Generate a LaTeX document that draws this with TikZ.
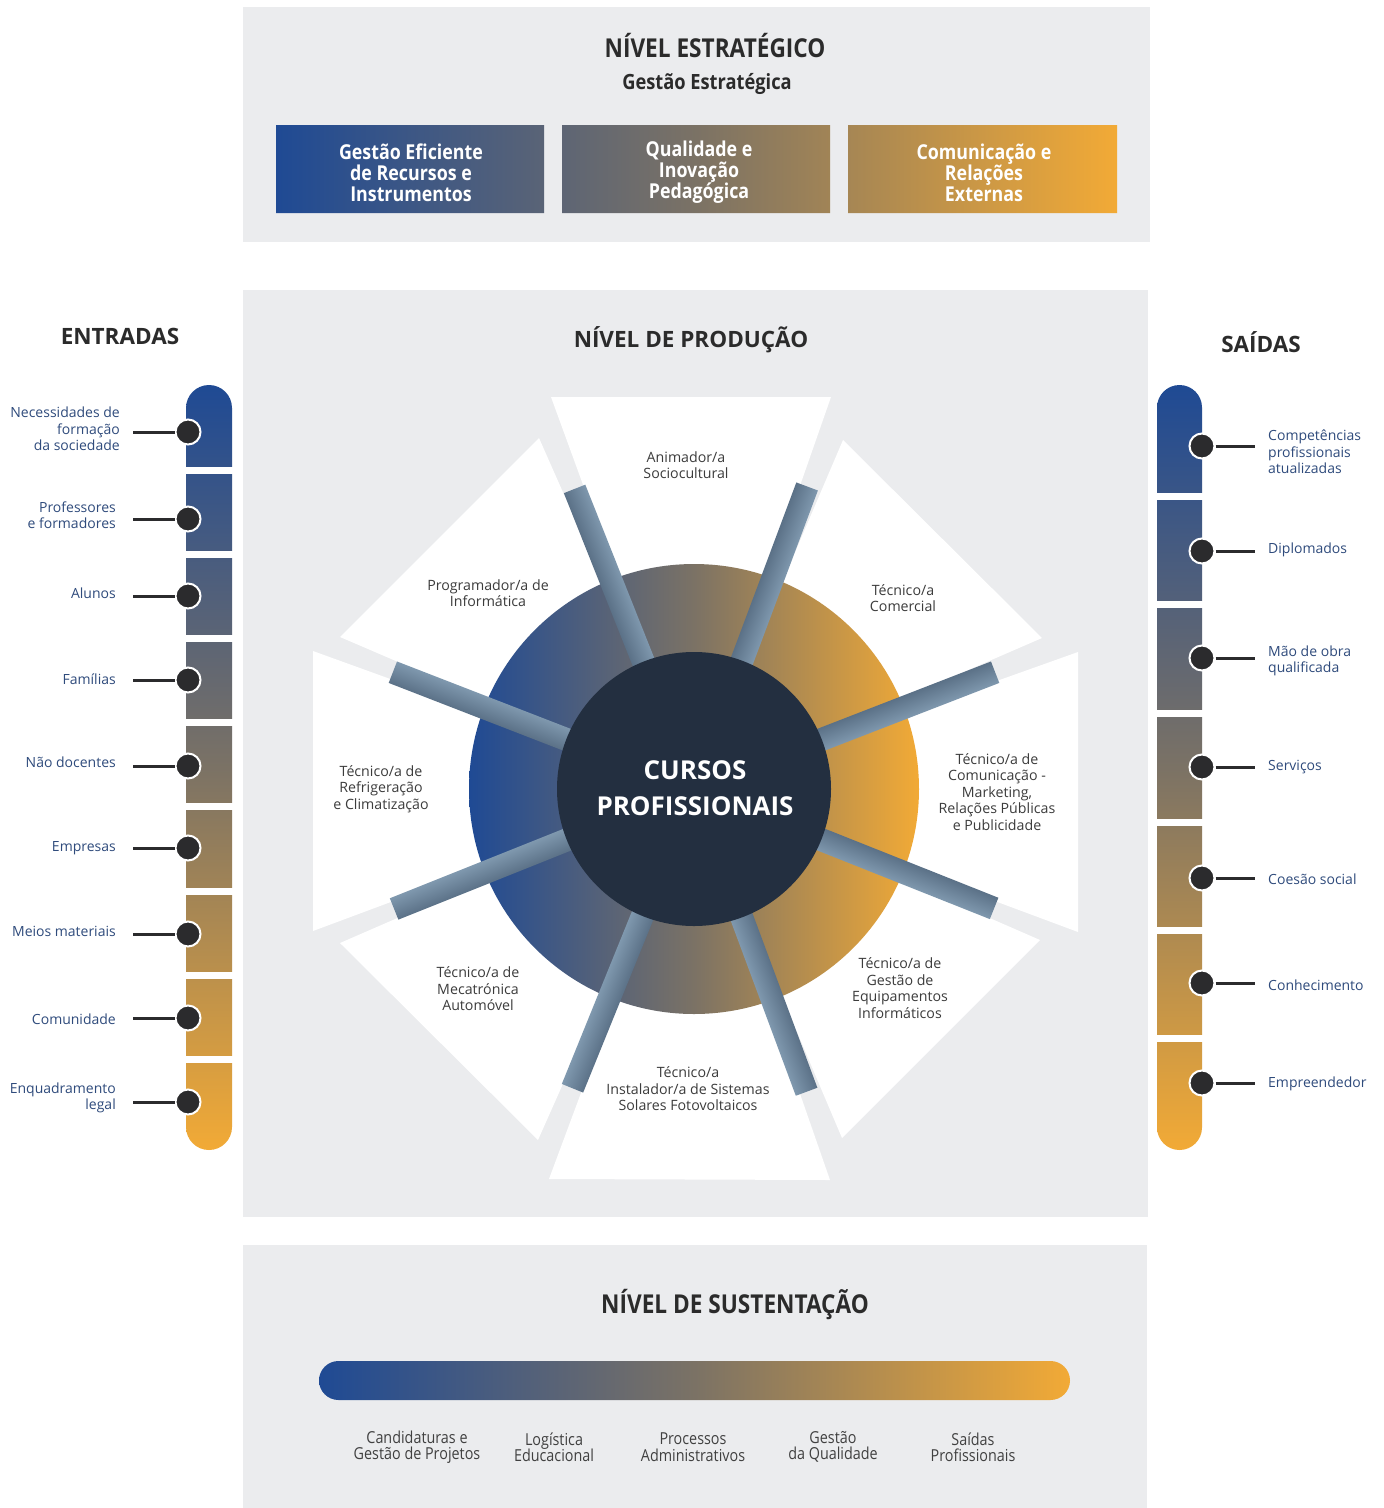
\documentclass[tikz,border=0pt]{standalone}
\usepackage{fontspec}
\setmainfont{Open Sans}
\newfontfamily\condfont[FakeStretch=0.87]{Open Sans}
\usetikzlibrary{calc}

\definecolor{panelgray}{HTML}{EBECEE}
\definecolor{cblue}{HTML}{1F4A94}
\definecolor{cmid}{HTML}{7B7265}
\definecolor{corange}{HTML}{F2AA36}
\definecolor{navy}{HTML}{232F40}
\definecolor{labelblue}{HTML}{2F4B7C}
\definecolor{wedgetext}{HTML}{3C3C3C}
\definecolor{dotdark}{HTML}{2B2B2D}
\definecolor{spokedark}{HTML}{5B7187}
\definecolor{spokelight}{HTML}{7F98AE}
\definecolor{headtext}{HTML}{2B2B2B}
\definecolor{basetext}{HTML}{404040}

\tikzset{
  panel/.style={fill=panelgray, draw=none},
  headcond/.style={font=\fontsize{26}{30}\condfont\bfseries, text=headtext, inner sep=0},
  subcond/.style={font=\fontsize{21}{24}\condfont\bfseries, text=headtext, inner sep=0},
  headbold/.style={font=\fontsize{22.5}{26}\selectfont\bfseries, text=headtext, inner sep=0},
  boxtext/.style={font=\fontsize{20.5}{21}\condfont\bfseries, text=white, align=center, inner sep=0},
  wedgelabel/.style={font=\fontsize{14.2}{16.5}\selectfont, text=wedgetext, align=center, inner sep=0},
  inlabel/.style={font=\fontsize{14}{16.5}\selectfont, text=labelblue, align=right, anchor=east, inner sep=0},
  outlabel/.style={font=\fontsize{14}{16.5}\selectfont, text=labelblue, align=left, anchor=west, inner sep=0},
  baselabel/.style={font=\fontsize{16.5}{16.5}\condfont, text=basetext, align=center, inner sep=0},
  hubdot/.style={circle, fill=dotdark, draw=white, line width=2pt, minimum size=25pt, inner sep=0},
  link/.style={draw=dotdark, line width=3pt},
  barshade/.style={top color=cblue, bottom color=corange, middle color=cmid},
}

\begin{document}
\begin{tikzpicture}[x=1pt,y=-1pt]
\useasboundingbox (0,0) rectangle (1384,1508);
\fill[white] (0,0) rectangle (1384,1508);

% ---------- panels ----------
\fill[panel] (243,7) rectangle (1150,242);
\fill[panel] (243,290) rectangle (1148,1217);
\fill[panel] (243,1245) rectangle (1147,1508);

% ---------- strategic level ----------
\node[headcond] (strat) at (715,46) {NÍVEL ESTRATÉGICO};
\node[subcond] (gest) at (707,84) {Gestão Estratégica};
\begin{scope}
  \clip (276,125) rectangle (544,213) (562,125) rectangle (830,213) (848,125) rectangle (1117,213);
  \shade[left color=cblue, right color=corange, middle color=cmid] (276,125) rectangle (1117,213);
\end{scope}
\node[boxtext] (box1) at (411,173) {Gestão Eficiente\\de Recursos e\\Instrumentos};
\node[boxtext] (box2) at (699,172) {Qualidade e\\Inovação\\Pedagógica};
\node[boxtext] (box3) at (984,173) {Comunicação e\\Relações\\Externas};

% ---------- production level ----------
\node[headbold] (entradas) at (120,336) {ENTRADAS};
\node[headbold] (prod) at (691,340) {NÍVEL DE PRODUÇÃO};
\node[headbold] (saidas) at (1261,342) {SAÍDAS};

\coordinate (ctr) at (694,789);
% white wedges of the octagon
\foreach \ax/\ay/\bx/\by in {551/397/831/397, 843/440/1042/638, 1078/652/1078/932,
  1040/940/842/1138, 830/1180/549/1179, 538/1140/340/943, 313/931/313/651, 340/637/539/438}{
  \fill[white] (ctr) -- (\ax,\ay) -- (\bx,\by) -- cycle;
}
% gradient ring
\shade[left color=cblue, right color=corange, middle color=cmid] (ctr) circle (225);
% spokes
\foreach \a in {111.7,69.5,21.2,-21.7,-69.6,-112.1,-158.2,158.8}{
  \begin{scope}[transform canvas={shift={(694,789)},rotate=\a}]
    \shade[top color=spokedark, bottom color=spokelight] (0,-11.5) rectangle (323,11.5);
  \end{scope}
}
% hub
\node[circle, fill=navy, minimum size=274pt, inner sep=0] (hub) at (ctr) {};
\node[font=\fontsize{26}{36}\selectfont\bfseries, text=white, align=center, inner sep=0] (hubtext) at (695,788) {CURSOS\\PROFISSIONAIS};

% course labels
\node[wedgelabel] (c1) at (686,465) {Animador/a\\Sociocultural};
\node[wedgelabel] (c2) at (488,593) {Programador/a de\\Informática};
\node[wedgelabel] (c3) at (903,598) {Técnico/a\\Comercial};
\node[wedgelabel] (c4) at (381,789) {Técnico/a de\\Refrigeração\\e Climatização};
\node[wedgelabel] (c5) at (997,792) {Técnico/a de\\Comunicação -\\Marketing,\\Relações Públicas\\e Publicidade};
\node[wedgelabel] (c6) at (478,989) {Técnico/a de\\Mecatrónica\\Automóvel};
\node[wedgelabel] (c7) at (900,988) {Técnico/a de\\Gestão de\\Equipamentos\\Informáticos};
\node[wedgelabel] (c8) at (688,1089) {Técnico/a\\Instalador/a de Sistemas\\Solares Fotovoltaicos};

% ---------- inputs column ----------
\shade[barshade, rounded corners=23pt] (186,385) rectangle (232,1150);
\foreach \g in {467,551,635,719,803,888,972,1056}{
  \fill[white] (184,\g) rectangle (234,\g+7);
}
\foreach \y/\ty/\tx/\txt [count=\i] in {
  432/429/120/{Necessidades de\\formação\\da sociedade},
  519/515/116/{Professores\\e formadores},
  596/593/116/{Alunos},
  680/679/116/{Famílias},
  766/762/116/{Não docentes},
  848/848/116/{Empresas},
  934/931/116/{Meios materiais},
  1018/1019/116/{Comunidade},
  1102/1098/116/{Enquadramento\\legal}}{
  \node[inlabel] (in\i) at (\tx,\ty) {\txt};
  \coordinate (inend\i) at (133,\y);
  \node[hubdot] (indot\i) at (188,\y) {};
  \draw[link] (inend\i) -- (indot\i);
}

% ---------- outputs column ----------
\shade[barshade, rounded corners=22.5pt] (1157,385) rectangle (1202,1150);
\foreach \g in {493,601,710,819,927,1035}{
  \fill[white] (1155,\g) rectangle (1204,\g+7);
}
\foreach \y/\ty/\txt [count=\i] in {
  446/452/{Competências\\profissionais\\atualizadas},
  551/550/{Diplomados},
  658/661/{Mão de obra\\qualificada},
  767/767/{Serviços},
  878/879/{Coesão social},
  983/985/{Conhecimento},
  1083/1084/{Empreendedor}}{
  \node[outlabel] (out\i) at (1268,\ty) {\txt};
  \coordinate (outend\i) at (1255,\y);
  \node[hubdot] (outdot\i) at (1202,\y) {};
  \draw[link] (outdot\i) -- (outend\i);
}

% ---------- support level ----------
\node[headcond] (sust) at (735,1305) {NÍVEL DE SUSTENTAÇÃO};
\shade[left color=cblue, right color=corange, middle color=cmid, rounded corners=19.5pt] (319,1361) rectangle (1070,1400);
\node[baselabel] (s1) at (417,1447) {Candidaturas e\\Gestão de Projetos};
\node[baselabel] (s2) at (554,1447) {Logística\\Educacional};
\node[baselabel] (s3) at (693,1447) {Processos\\Administrativos};
\node[baselabel] (s4) at (833,1447) {Gestão\\da Qualidade};
\node[baselabel] (s5) at (973,1447) {Saídas\\Profissionais};
\end{tikzpicture}
\end{document}
